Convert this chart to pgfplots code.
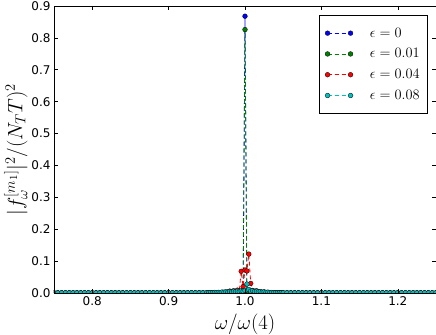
\documentclass[border=0pt]{standalone}
\usepackage{pgfplots}
\pgfplotsset{compat=1.18}
\usepackage{pgfplotstable}
\usepackage{fontspec}
\setmainfont{DejaVu Sans}
\definecolor{mblue}{rgb}{0,0,1}
\definecolor{mgreen}{rgb}{0,0.5,0}
\definecolor{mred}{rgb}{1,0,0}
\definecolor{mcyan}{rgb}{0,0.75,0.75}

\pgfplotstableread{
x a b c d
0.750 0 0.0002 0.0004 0.0006
0.755 0 0.0001 0.0003 0.0005
0.760 0 0.0002 0.0004 0.0006
0.765 0 0.0001 0.0003 0.0005
0.770 0 0.0002 0.0004 0.0006
0.775 0 0.0001 0.0003 0.0005
0.780 0 0.0002 0.0004 0.0006
0.785 0 0.0001 0.0003 0.0005
0.790 0 0.0002 0.0004 0.0006
0.795 0 0.0001 0.0003 0.0005
0.800 0 0.0002 0.0004 0.0006
0.805 0 0.0001 0.0003 0.0005
0.810 0 0.0002 0.0004 0.0006
0.815 0 0.0001 0.0003 0.0005
0.820 0 0.0002 0.0004 0.0006
0.825 0 0.0001 0.0003 0.0005
0.830 0 0.0002 0.0004 0.0006
0.835 0 0.0001 0.0003 0.0005
0.840 0 0.0002 0.0004 0.0006
0.845 0 0.0001 0.0003 0.0005
0.850 0 0.0002 0.0004 0.0006
0.855 0 0.0001 0.0003 0.0005
0.860 0 0.0002 0.0004 0.0006
0.865 0 0.0001 0.0003 0.0005
0.870 0 0.0002 0.0004 0.0006
0.875 0 0.0001 0.0003 0.0005
0.880 0 0.0002 0.0004 0.0006
0.885 0 0.0001 0.0003 0.0005
0.890 0 0.0002 0.0004 0.0006
0.895 0 0.0001 0.0003 0.0005
0.900 0 0.0002 0.0004 0.0006
0.905 0 0.0001 0.0003 0.0005
0.910 0 0.0002 0.0004 0.0006
0.915 0 0.0001 0.0003 0.0005
0.920 0 0.0002 0.0004 0.0006
0.925 0 0.0001 0.0003 0.0005
0.930 0 0.0002 0.0005 0.0007
0.935 0 0.0001 0.0004 0.0006
0.940 0 0.0002 0.0006 0.0008
0.945 0 0.0001 0.0005 0.0007
0.9500 0 0.0002 0.0008 0.0008
0.9525 0 0.0001 0.0006 0.0008
0.9550 0 0.0002 0.0010 0.0012
0.9575 0 0.0001 0.0008 0.0008
0.9600 0 0.0002 0.0010 0.0016
0.9625 0 0.0001 0.0008 0.0012
0.9650 0 0.0002 0.0012 0.0020
0.9675 0 0.0001 0.0010 0.0016
0.9700 0 0.0002 0.0015 0.0030
0.9725 0 0.0002 0.0012 0.0025
0.9750 0 0.0003 0.0020 0.0040
0.9775 0 0.0002 0.0015 0.0030
0.9800 0 0.0004 0.0060 0.0045
0.9825 0 0.0003 0.0030 0.0035
0.9850 0 0.0005 0.0070 0.0055
0.9875 0 0.0004 0.0040 0.0040
0.9900 0 0.0006 0.0090 0.0060
0.9925 0 0.0008 0.0060 0.0050
0.9950 0.0005 0.0015 0.0680 0.0070
0.9975 0.0010 0.0030 0.0200 0.0055
1.0000 0.8680 0.8260 0.0720 0.0080
1.0025 0.0010 0.0030 0.0690 0.0280
1.0050 0.0005 0.0015 0.1220 0.0110
1.0075 0 0.0008 0.0300 0.0060
1.0100 0 0.0006 0.0080 0.0070
1.0125 0 0.0005 0.0050 0.0045
1.0150 0 0.0004 0.0070 0.0055
1.0175 0 0.0003 0.0030 0.0035
1.0200 0 0.0003 0.0040 0.0045
1.0225 0 0.0002 0.0020 0.0025
1.0250 0 0.0002 0.0030 0.0035
1.0275 0 0.0002 0.0015 0.0020
1.0300 0 0.0002 0.0020 0.0025
1.0325 0 0.0001 0.0012 0.0015
1.0350 0 0.0002 0.0012 0.0015
1.0375 0 0.0001 0.0008 0.0010
1.0400 0 0.0002 0.0010 0.0010
1.0425 0 0.0001 0.0006 0.0008
1.0450 0 0.0002 0.0008 0.0008
1.0475 0 0.0001 0.0006 0.0007
1.0500 0 0.0002 0.0005 0.0006
1.055 0 0.0001 0.0005 0.0007
1.060 0 0.0002 0.0004 0.0006
1.065 0 0.0001 0.0005 0.0007
1.070 0 0.0002 0.0004 0.0006
1.075 0 0.0001 0.0003 0.0005
1.080 0 0.0002 0.0004 0.0006
1.085 0 0.0001 0.0003 0.0005
1.090 0 0.0002 0.0004 0.0006
1.095 0 0.0001 0.0003 0.0005
1.100 0 0.0002 0.0004 0.0006
1.105 0 0.0001 0.0003 0.0005
1.110 0 0.0002 0.0004 0.0006
1.115 0 0.0001 0.0003 0.0005
1.120 0 0.0002 0.0004 0.0006
1.125 0 0.0001 0.0003 0.0005
1.130 0 0.0002 0.0004 0.0006
1.135 0 0.0001 0.0003 0.0005
1.140 0 0.0002 0.0004 0.0006
1.145 0 0.0001 0.0003 0.0005
1.150 0 0.0002 0.0004 0.0006
1.155 0 0.0001 0.0003 0.0005
1.160 0 0.0002 0.0004 0.0006
1.165 0 0.0001 0.0003 0.0005
1.170 0 0.0002 0.0004 0.0006
1.175 0 0.0001 0.0003 0.0005
1.180 0 0.0002 0.0004 0.0006
1.185 0 0.0001 0.0003 0.0005
1.190 0 0.0002 0.0004 0.0006
1.195 0 0.0001 0.0003 0.0005
1.200 0 0.0002 0.0004 0.0006
1.205 0 0.0001 0.0003 0.0005
1.210 0 0.0002 0.0004 0.0006
1.215 0 0.0001 0.0003 0.0005
1.220 0 0.0002 0.0004 0.0006
1.225 0 0.0001 0.0003 0.0005
1.230 0 0.0002 0.0004 0.0006
1.235 0 0.0001 0.0003 0.0005
1.240 0 0.0002 0.0004 0.0006
1.245 0 0.0001 0.0003 0.0005
1.250 0 0.0002 0.0004 0.0006
}\spec

\pgfplotsset{
  mstyle/.style={color=#1, dash pattern=on 4pt off 3pt, line width=0.8pt, mark=*, mark size=2.4pt,
    mark options={solid, draw=black, line width=0.3pt, fill=#1}},
}

\begin{document}
\begin{tikzpicture}
\begin{axis}[
  name=ax,
  scale only axis,
  width=382pt, height=287pt,
  xmin=0.75, xmax=1.25, ymin=0, ymax=0.9,
  xtick={0.8,0.9,1.0,1.1,1.2},
  ytick={0,0.1,0.2,0.3,0.4,0.5,0.6,0.7,0.8,0.9},
  xticklabels={0.8,0.9,1.0,1.1,1.2},
  yticklabels={0.0,0.1,0.2,0.3,0.4,0.5,0.6,0.7,0.8,0.9},
  tick label style={font=\fontsize{12}{14}\selectfont},
  tick align=inside,
  major tick length=4pt,
  axis line style={line width=0.8pt},
  every tick/.style={black, line width=0.6pt},
  clip marker paths=true,
  axis on top,
  xlabel={$\omega/\omega(4)$},
  ylabel={$|f_{\omega}^{[m_1]}|^2/(N_T T)^2$},
  every axis x label/.style={at={(axis description cs:0.5,-0.108)}, anchor=center, font=\fontsize{20}{22}\selectfont},
  every axis y label/.style={at={(axis description cs:-0.1,0.5)}, rotate=90, anchor=center, font=\fontsize{21}{23}\selectfont},
  legend style={at={(rel axis cs:0.979,0.967)}, anchor=north east, draw=black, line width=0.6pt,
    fill=white, font=\fontsize{15}{17}\selectfont, row sep=6pt, inner xsep=6pt, inner ysep=10pt,
    /tikz/every odd column/.append style={column sep=15pt}},
  legend cell align=left,
  legend image code/.code={
    \draw plot coordinates {(0pt,0pt) (23pt,0pt)};
  },
]
\addplot[mstyle=mblue] table[x=x,y=a]{\spec};
\addplot[mstyle=mgreen] table[x=x,y=b]{\spec};
\addplot[mstyle=mred] table[x=x,y=c]{\spec};
\addplot[mstyle=mcyan] table[x=x,y=d]{\spec};
\legend{$\epsilon=0$,$\epsilon=0.01$,$\epsilon=0.04$,$\epsilon=0.08$}
\end{axis}
\pgfresetboundingbox
\path ([xshift=-54pt,yshift=-42pt]ax.south west) rectangle ([yshift=6pt]ax.north east);
\end{tikzpicture}
\end{document}
